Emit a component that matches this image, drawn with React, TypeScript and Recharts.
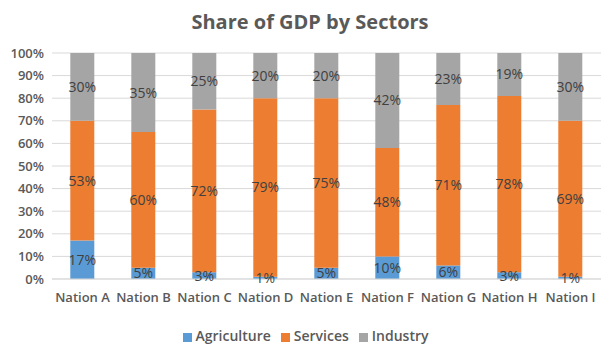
import React from "react";
import { BarChart, Bar, XAxis, YAxis, CartesianGrid, Legend, LabelList } from "recharts";

const nations = ["Nation A", "Nation B", "Nation C", "Nation D", "Nation E", "Nation F", "Nation G", "Nation H", "Nation I"];
const agriculture = [17, 5, 3, 1, 5, 10, 6, 3, 1];
const services = [53, 60, 72, 79, 75, 48, 71, 78, 69];
const industry = [30, 35, 25, 20, 20, 42, 23, 19, 30];
const yTicks = [0, 10, 20, 30, 40, 50, 60, 70, 80, 90, 100];

const data = nations.map((name, i) => ({
  name,
  Agriculture: agriculture[i],
  Services: services[i],
  Industry: industry[i],
}));

const FONT = "'Open Sans', 'Noto Sans', sans-serif";
const pct = (v: any) => `${v}%`;

export default function App() {
  return (
    <div style={{ position: "absolute", left: 0, top: 0, width: 605, height: 353, background: "#fff", fontFamily: FONT }}>
      <div
        style={{
          position: "absolute",
          left: 0,
          top: 8,
          width: 620,
          textAlign: "center",
          fontSize: 20,
          fontWeight: 700,
          color: "#595959",
          fontFamily: FONT,
        }}
      >
        Share of GDP by Sectors
      </div>
      <BarChart
        width={605}
        height={353}
        data={data}
        margin={{ top: 53, right: 4, bottom: 0, left: 0 }}
        barCategoryGap="30%"
      >
        <CartesianGrid vertical={false} stroke="#D9D9D9" />
        <XAxis
          dataKey="name"
          axisLine={{ stroke: "#D9D9D9" }}
          tickLine={false}
          height={74}
          tick={{ fill: "#595959", fontSize: 13, fontWeight: 600, fontFamily: FONT }}
          interval={0}
          dy={6}
        />
        <YAxis
          domain={[0, 100]}
          ticks={yTicks}
          interval={0}
          tickFormatter={pct}
          axisLine={false}
          tickLine={false}
          width={52}
          tick={{ fill: "#595959", fontSize: 13, fontWeight: 600, fontFamily: FONT }}
        />
        <Legend
          verticalAlign="middle"
          align="center"
          iconType="square"
          iconSize={9}
          itemSorter={null as any}
          wrapperStyle={{ fontFamily: FONT, fontSize: 14, fontWeight: 600, top: 326, left: 10 }}
          formatter={(v: any) => <span style={{ color: "#595959" }}>{v}</span>}
        />
        <Bar dataKey="Agriculture" stackId="a" fill="#5B9BD5" isAnimationActive={false}>
          <LabelList dataKey="Agriculture" position="center" formatter={pct} fill="#404040" fontSize={14} fontFamily={FONT} />
        </Bar>
        <Bar dataKey="Services" stackId="a" fill="#ED7D31" isAnimationActive={false}>
          <LabelList dataKey="Services" position="center" formatter={pct} fill="#404040" fontSize={14} fontFamily={FONT} />
        </Bar>
        <Bar dataKey="Industry" stackId="a" fill="#A5A5A5" isAnimationActive={false}>
          <LabelList dataKey="Industry" position="center" formatter={pct} fill="#404040" fontSize={14} fontFamily={FONT} />
        </Bar>
      </BarChart>
    </div>
  );
}
